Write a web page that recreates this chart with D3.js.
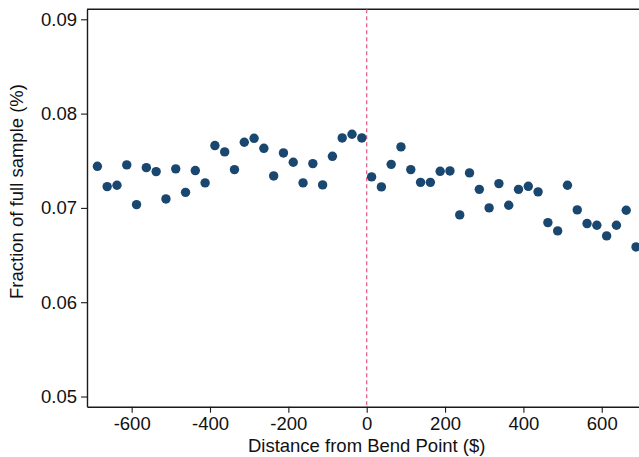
<!DOCTYPE html>
<html>
<head>
<meta charset="utf-8">
<script src="https://cdn.jsdelivr.net/npm/d3@7"></script>
<style>
  html, body { margin: 0; padding: 0; background: #fff; }
  svg { display: block; font-family: "Liberation Sans", Arial, Helvetica, sans-serif; }
</style>
</head>
<body>
<script>
// Bin centers ($ distance from the bend point), 25-dollar bins
const binCenters = [
  -687.5, -662.5, -637.5, -612.5, -587.5, -562.5, -537.5, -512.5,
  -487.5, -462.5, -437.5, -412.5, -387.5, -362.5, -337.5, -312.5,
  -287.5, -262.5, -237.5, -212.5, -187.5, -162.5, -137.5, -112.5,
  -87.5, -62.5, -37.5, -12.5, 12.5, 37.5, 62.5, 87.5,
  112.5, 137.5, 162.5, 187.5, 212.5, 237.5, 262.5, 287.5,
  312.5, 337.5, 362.5, 387.5, 412.5, 437.5, 462.5, 487.5,
  512.5, 537.5, 562.5, 587.5, 612.5, 637.5, 662.5, 687.5
];

// Share of the full sample falling in each bin (%)
const fractionValues = [
  0.07441, 0.07226, 0.07240, 0.07456, 0.07035, 0.07427, 0.07385, 0.07095,
  0.07414, 0.07165, 0.07396, 0.07265, 0.07661, 0.07594, 0.07406, 0.07696,
  0.07738, 0.07632, 0.07339, 0.07583, 0.07484, 0.07265, 0.07470, 0.07244,
  0.07547, 0.07742, 0.07781, 0.07742, 0.07329, 0.07223, 0.07462, 0.07647,
  0.07406, 0.07271, 0.07271, 0.07388, 0.07392, 0.06926, 0.07371, 0.07197,
  0.07000, 0.07258, 0.07028, 0.07197, 0.07229, 0.07170, 0.06844, 0.06756,
  0.07240, 0.06979, 0.06834, 0.06816, 0.06703, 0.06816, 0.06975, 0.06586
];

const xTicks = [-600, -400, -200, 0, 200, 400, 600];
const yTicks = [0.05, 0.06, 0.07, 0.08, 0.09];
const bendPoint = 0;

const width = 639, height = 457;
const plot = { left: 87, right: 646.4, top: 9.3, bottom: 406.7 };

const svg = d3.select("body").append("svg")
  .attr("width", width).attr("height", height);

const x = d3.scaleLinear().domain([-714, 714]).range([plot.left, plot.right]);
const y = d3.scaleLinear().domain([0.04892, 0.09106]).range([plot.bottom, plot.top]);

const fontSize = 18.5;
const axisColor = "#1a1a1a";

// Top frame line
svg.append("line")
  .attr("x1", plot.left).attr("x2", plot.right)
  .attr("y1", plot.top).attr("y2", plot.top)
  .attr("stroke", axisColor).attr("stroke-width", 1.4);

// X axis
const xAxis = svg.append("g")
  .attr("transform", `translate(0,${plot.bottom})`)
  .call(d3.axisBottom(x).tickValues(xTicks).tickSize(6).tickPadding(4).tickSizeOuter(0)
    .tickFormat(d3.format("d")));

// Y axis
const yAxis = svg.append("g")
  .attr("transform", `translate(${plot.left},0)`)
  .call(d3.axisLeft(y).tickValues(yTicks).tickSize(6).tickPadding(4).tickSizeOuter(0)
    .tickFormat(d3.format(".2f")));

[xAxis, yAxis].forEach(g => {
  g.select(".domain").attr("stroke", axisColor).attr("stroke-width", 1.4);
  g.selectAll(".tick line").attr("stroke", axisColor).attr("stroke-width", 1.1);
  g.selectAll(".tick text")
    .attr("fill", "#111")
    .style("font-size", fontSize + "px")
    .style("font-family", "'Liberation Sans', Arial, sans-serif");
});
// minus sign as plain hyphen
xAxis.selectAll(".tick text").text(d => String(d));

// Bend point reference line
svg.append("line")
  .attr("x1", x(bendPoint)).attr("x2", x(bendPoint))
  .attr("y1", plot.top).attr("y2", plot.bottom)
  .attr("stroke", "#e05a80").attr("stroke-width", 1.2)
  .attr("stroke-dasharray", "4,3");

// Binned scatter points
const points = binCenters.map((c, i) => ({ c, v: fractionValues[i] }));
svg.append("g").selectAll("circle")
  .data(points).join("circle")
  .attr("cx", d => x(d.c))
  .attr("cy", d => y(d.v))
  .attr("r", 4.7)
  .attr("fill", "#1a476f");

// Axis titles
svg.append("text")
  .attr("x", (plot.left + plot.right) / 2)
  .attr("y", 451.5)
  .attr("text-anchor", "middle")
  .attr("fill", "#111")
  .style("font-size", fontSize + "px")
  .text("Distance from Bend Point ($)");

svg.append("text")
  .attr("transform", "translate(23.3,191.5) rotate(-90)")
  .attr("text-anchor", "middle")
  .attr("fill", "#111")
  .style("font-size", fontSize + "px")
  .text("Fraction of full sample (%)");
</script>
</body>
</html>
